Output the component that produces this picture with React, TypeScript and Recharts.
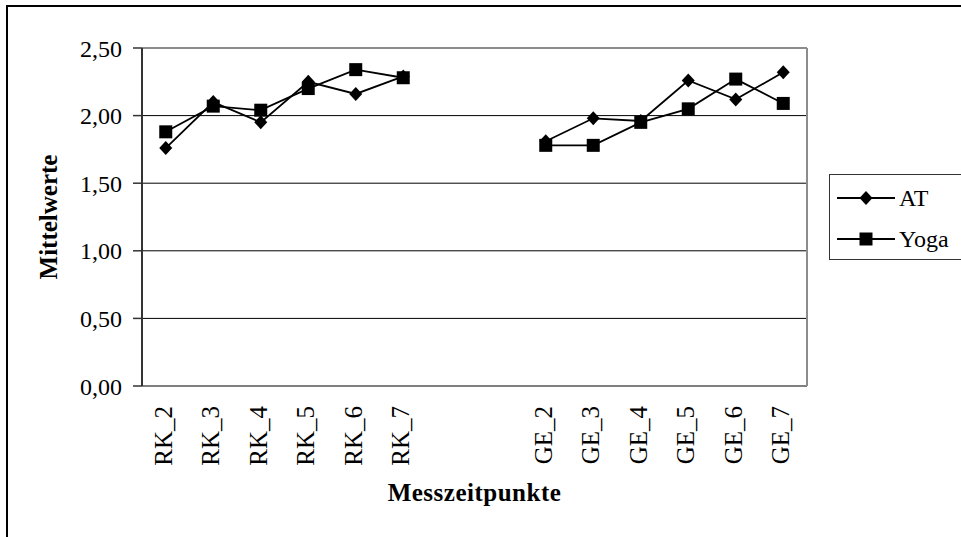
import React from 'react';
import { LineChart, Line, XAxis, YAxis, CartesianGrid, ReferenceLine, Legend, Label } from 'recharts';

const FONT = '"Liberation Serif", "Times New Roman", serif';

const categories = ['RK_2', 'RK_3', 'RK_4', 'RK_5', 'RK_6', 'RK_7', '', '', 'GE_2', 'GE_3', 'GE_4', 'GE_5', 'GE_6', 'GE_7'];
const atValues = [1.76, 2.1, 1.95, 2.25, 2.16, 2.29, null, null, 1.81, 1.98, 1.96, 2.26, 2.12, 2.32];
const yogaValues = [1.88, 2.07, 2.04, 2.2, 2.34, 2.28, null, null, 1.78, 1.78, 1.95, 2.05, 2.27, 2.09];
const yTicks = [0, 0.5, 1, 1.5, 2, 2.5];
const centerTicks = [0, 1, 2, 3, 4, 5, 6, 7, 8, 9, 10, 11, 12, 13];
const boundaryTicks = [-0.5, 0.5, 1.5, 2.5, 3.5, 4.5, 5.5, 6.5, 7.5, 8.5, 9.5, 10.5, 11.5, 12.5, 13.5];
const xDomain = [-0.5, 13.5];
const seriesNames = ['AT', 'Yoga'];

const data = categories.map((c, i) => ({ x: i, name: c, AT: atValues[i], Yoga: yogaValues[i] }));

const diamondPath = (cx: number, cy: number) =>
  `M${cx},${cy - 7}L${cx + 6.5},${cy}L${cx},${cy + 7}L${cx - 6.5},${cy}Z`;
const squarePath = (cx: number, cy: number) =>
  `M${cx - 6.5},${cy - 6.5}h13v13h-13Z`;

const DiamondDot = (props: any) => {
  const { cx, cy, index, value } = props;
  if (cx == null || cy == null || value == null || Number.isNaN(cy)) return <g key={`d${index}`} />;
  return <path key={`d${index}`} d={diamondPath(cx, cy)} fill="#000" stroke="none" />;
};

const SquareDot = (props: any) => {
  const { cx, cy, index, value } = props;
  if (cx == null || cy == null || value == null || Number.isNaN(cy)) return <g key={`s${index}`} />;
  return <path key={`s${index}`} d={squarePath(cx, cy)} fill="#000" stroke="none" />;
};

const XTick = (props: any) => {
  const { x, y, payload } = props;
  const label = categories[Math.round(payload.value)] ?? '';
  return (
    <g transform={`translate(${x + 6},${y})`}>
      <text x={0} y={0} transform="rotate(-90)" textAnchor="end" fontSize={25} fontFamily={FONT} fill="#000">
        {label}
      </text>
    </g>
  );
};

const EmptyTick = () => <g />;

const renderLegend = () => (
  <div
    style={{
      border: '1.5px solid #333',
      width: 150,
      height: 86,
      boxSizing: 'border-box',
      paddingTop: 2,
      background: '#fff',
    }}
  >
    {seriesNames.map((s, i) => (
      <div key={s} style={{ display: 'flex', alignItems: 'center', height: 41 }}>
        <svg width={58} height={20} style={{ marginLeft: 7, display: 'block' }}>
          <line x1={0} y1={10} x2={58} y2={10} stroke="#000" strokeWidth={1.8} />
          <path d={i === 0 ? diamondPath(29, 10) : squarePath(29, 10)} fill="#000" />
        </svg>
        <span style={{ marginLeft: 4, fontSize: 24, fontFamily: FONT, lineHeight: 1, color: '#000' }}>{s}</span>
      </div>
    ))}
  </div>
);

const YTitle = () => (
  <text
    x={57}
    y={217}
    transform="rotate(-90, 57, 217)"
    textAnchor="middle"
    fontSize={25}
    fontWeight="bold"
    fontFamily={FONT}
    fill="#000"
  >
    Mittelwerte
  </text>
);

const XTitle = () => (
  <text x={474.5} y={501} textAnchor="middle" fontSize={25} fontWeight="bold" fontFamily={FONT} fill="#000" letterSpacing={0.5}>
    Messzeitpunkte
  </text>
);

export default function App() {
  return (
    <div style={{ position: 'absolute', left: 0, top: 0, width: 961, height: 537, overflow: 'hidden', background: '#fff' }}>
      <div style={{ position: 'absolute', left: 6, top: 5, width: 1000, height: 600, border: '2px solid #000' }} />
      <div style={{ position: 'absolute', left: 0, top: 0 }}>
        <LineChart width={961} height={537} data={data} margin={{ top: 48, right: 154, left: 0, bottom: 0 }}>
          <XAxis
            xAxisId="a"
            dataKey="x"
            type="number"
            domain={xDomain}
            ticks={boundaryTicks}
            interval={0}
            allowDataOverflow
            height={0}
            axisLine={{ stroke: '#333', strokeWidth: 2 }}
            tickLine={{ stroke: '#333', strokeWidth: 1.5 }}
            tickSize={8}
            tick={EmptyTick}
          />
          <XAxis
            xAxisId="b"
            dataKey="x"
            type="number"
            domain={xDomain}
            ticks={centerTicks}
            interval={0}
            allowDataOverflow
            height={151}
            axisLine={false}
            tickLine={false}
            tickSize={8}
            tickMargin={12}
            tick={XTick}
          >
            <Label content={XTitle} />
          </XAxis>
          <YAxis
            width={142}
            domain={[0, 2.5]}
            ticks={yTicks}
            interval={0}
            tickFormatter={(v: number) => v.toFixed(2).replace('.', ',')}
            tickSize={9}
            tickMargin={11}
            axisLine={{ stroke: '#333', strokeWidth: 2 }}
            tickLine={{ stroke: '#333', strokeWidth: 1.5 }}
            tick={{ fontSize: 24, fontFamily: FONT, fill: '#000' }}
          >
            <Label content={YTitle} />
          </YAxis>
          <CartesianGrid xAxisId="a" vertical={false} stroke="#000" strokeWidth={1} />
          <ReferenceLine xAxisId="a" y={2.5} stroke="#8c8c8c" strokeWidth={2} />
          <ReferenceLine xAxisId="a" x={13.5} stroke="#8c8c8c" strokeWidth={2} />
          <Legend
            layout="horizontal"
            verticalAlign="middle"
            align="center"
            content={renderLegend}
            wrapperStyle={{ left: 829, top: 174, width: 150, height: 86 }}
          />
          <Line
            xAxisId="a"
            type="linear"
            dataKey="AT"
            stroke="#000"
            strokeWidth={1.8}
            dot={DiamondDot}
            activeDot={false}
            isAnimationActive={false}
          />
          <Line
            xAxisId="b"
            type="linear"
            dataKey="Yoga"
            stroke="#000"
            strokeWidth={1.8}
            dot={SquareDot}
            activeDot={false}
            isAnimationActive={false}
          />
        </LineChart>
      </div>
    </div>
  );
}
